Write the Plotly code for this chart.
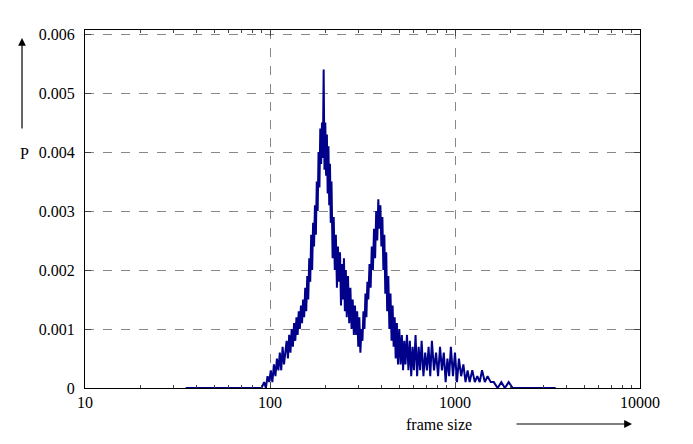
import plotly.graph_objects as go

# frame sizes (bytes) and probabilities
frame_size = [35, 60, 90, 93, 95, 97, 99, 101, 103, 105, 107, 109, 111, 113, 115, 117, 119, 121, 123, 125,
              127, 129, 131, 133, 135, 137, 139, 141, 143, 145, 147, 149, 151, 153, 155, 157, 159, 161, 163, 165,
              167, 169, 171, 173, 175, 177, 179, 181, 183, 185, 187, 189, 191, 193, 195, 197, 199, 201, 203, 205,
              207, 209, 211, 213, 215, 218, 221, 224, 227, 230, 233, 236, 239, 242, 245, 248, 251, 254, 257, 260,
              264, 268, 272, 276, 280, 284, 288, 292, 296, 300, 304, 308, 312, 316, 320, 324, 328, 332, 336, 340,
              345, 350, 355, 360, 365, 370, 375, 380, 385, 390, 395, 400, 405, 410, 415, 420, 425, 430, 436, 442,
              448, 454, 460, 466, 472, 478, 485, 492, 500, 508, 516, 524, 532, 540, 550, 560, 570, 580, 590, 600,
              612, 624, 636, 648, 660, 675, 690, 705, 720, 735, 750, 770, 790, 810, 830, 850, 870, 890, 910, 930,
              950, 975, 1000, 1025, 1050, 1080, 1110, 1140, 1170, 1200, 1240, 1280, 1320, 1360, 1400, 1450, 1500,
              1560, 1620, 1700, 1780, 1860, 1950, 2050, 2300, 2800, 3500]
prob = [0, 0, 0, 0.0001, 0, 0.0002, 0.0001, 0.0003, 0.0001, 0.0004, 0.0002, 0.0005, 0.0003, 0.0006, 0.0003, 0.0007, 0.0004, 0.0006, 0.0008, 0.0005,
        0.0009, 0.0006, 0.0010, 0.0007, 0.0011, 0.0008, 0.0012, 0.0009, 0.0013, 0.0010, 0.0014, 0.0011, 0.0015, 0.0012, 0.0017, 0.0013, 0.0019, 0.0015, 0.0022, 0.0018,
        0.0026, 0.0020, 0.0028, 0.0024, 0.0031, 0.0026, 0.0035, 0.0030, 0.0040, 0.0034, 0.0044, 0.0038, 0.0045, 0.0039, 0.0054, 0.0037, 0.0045, 0.0036, 0.0043, 0.0033,
        0.0041, 0.0031, 0.0038, 0.0028, 0.0035, 0.0022, 0.0029, 0.0020, 0.0026, 0.0017, 0.0024, 0.0018, 0.0023, 0.0014, 0.0021, 0.0015, 0.0022, 0.0013, 0.0020, 0.0012,
        0.0019, 0.0011, 0.0017, 0.0010, 0.0015, 0.0009, 0.0014, 0.0009, 0.0013, 0.0007, 0.0012, 0.0006, 0.0010, 0.0008, 0.0013, 0.0010, 0.0016, 0.0012, 0.0018, 0.0015,
        0.0021, 0.0017, 0.0024, 0.0020, 0.0027, 0.0022, 0.0030, 0.0025, 0.0032, 0.0027, 0.0031, 0.0024, 0.0029, 0.0020, 0.0026, 0.0016, 0.0023, 0.0013, 0.0019, 0.0010,
        0.0016, 0.0008, 0.0014, 0.0007, 0.0012, 0.0005, 0.0011, 0.0004, 0.0010, 0.0004, 0.0009, 0.0003, 0.0008, 0.0004, 0.0009, 0.0003, 0.0008, 0.0002, 0.0007, 0.0003,
        0.0009, 0.0002, 0.0007, 0.0003, 0.0008, 0.0002, 0.0006, 0.0003, 0.0007, 0.0002, 0.0008, 0.0003, 0.0006, 0.0002, 0.0007, 0.0003, 0.0006, 0.0001, 0.0005, 0.0002,
        0.0007, 0.0002, 0.0006, 0.0001, 0.0005, 0.0002, 0.0004, 0.0001, 0.0003, 0.0001, 0.0003, 0.0001, 0.0002, 0.0001, 0.0003, 0.0001, 0.0002,
        0.0001, 0.0001, 0.0000, 0.0001, 0.0000, 0.0001, 0, 0, 0, 0]

x_ticks = [10, 100, 1000, 10000]
x_minor = [20, 30, 40, 50, 60, 70, 80, 90, 200, 300, 400, 500, 600, 700, 800, 900,
           2000, 3000, 4000, 5000, 6000, 7000, 8000, 9000]
y_ticks = [0, 0.001, 0.002, 0.003, 0.004, 0.005, 0.006]

fig = go.Figure()
fig.add_trace(go.Scatter(x=frame_size, y=prob, mode='lines',
                         line=dict(color='#00008b', width=2), showlegend=False))

fig.update_layout(
    width=693, height=444,
    margin=dict(l=77, r=61, t=22, b=64),
    paper_bgcolor='white', plot_bgcolor='white',
    font=dict(family='Liberation Serif, serif', size=16, color='black'),
)
fig.update_xaxes(
    type='log', range=[1, 4], automargin=False,
    tickvals=x_ticks, ticktext=[str(v) for v in x_ticks],
    showline=True, linecolor='black', linewidth=1, mirror='allticks',
    ticks='inside', ticklen=6,
    minor=dict(tickvals=x_minor, ticks='inside', ticklen=3, showgrid=False),
    showgrid=True, gridcolor='#888888', griddash='dash', gridwidth=1,
    zeroline=False,
)
fig.update_yaxes(
    range=[0, 0.00607], automargin=False,
    tickvals=y_ticks, ticktext=['0'] + [f'{v:.3f}' for v in y_ticks[1:]],
    showline=True, linecolor='black', linewidth=1, mirror='allticks',
    ticks='inside', ticklen=6, ticklabelstandoff=6,
    showgrid=True, gridcolor='#888888', griddash='dash', gridwidth=1,
    zeroline=False,
)

# axis labels with arrows, as in the original
fig.add_annotation(x=-0.1135, y=0.978, xref='paper', yref='paper', ax=0, ay=92,
                   text='', showarrow=True, arrowhead=2, arrowsize=1.3, arrowwidth=1.2, arrowcolor='black')
fig.add_annotation(x=-0.1207, y=0.684, xref='paper', yref='paper', text='P', showarrow=False)
fig.add_annotation(x=0.9856, y=-0.1006, xref='paper', yref='paper', ax=-117, ay=0,
                   text='', showarrow=True, arrowhead=2, arrowsize=1.3, arrowwidth=1.2, arrowcolor='black')
fig.add_annotation(x=0.70, y=-0.1006, xref='paper', yref='paper', yanchor='middle', text='frame size',
                   showarrow=False)

fig.write_html("out.html")
